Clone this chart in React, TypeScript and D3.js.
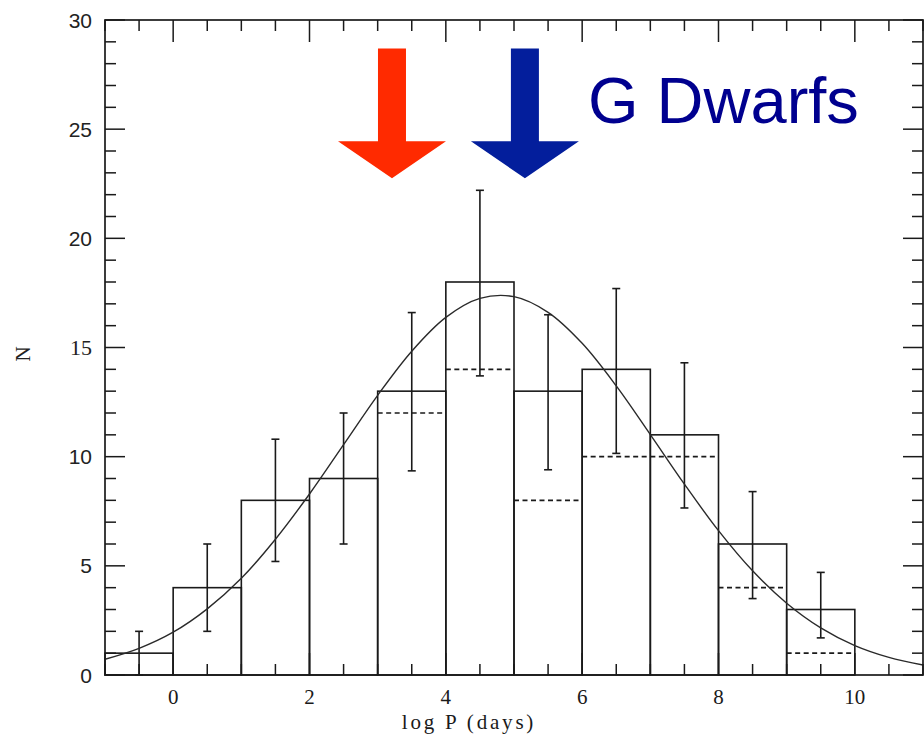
import React from "react";
import * as d3 from "d3";

// ---- data ----
const binStarts = [-1, 0, 1, 2, 3, 4, 5, 6, 7, 8, 9];
const counts = [1, 4, 8, 9, 13, 18, 13, 14, 11, 6, 3];
const subCounts = [1, 4, 8, 9, 12, 14, 8, 10, 10, 4, 1];
const errLow = [0, 2, 5.2, 6, 9.35, 13.7, 9.4, 10.15, 7.65, 3.5, 1.7];
const errHigh = [2, 6, 10.8, 12, 16.6, 22.2, 16.5, 17.7, 14.3, 8.4, 4.7];

const curveX = [-1, -0.5, 0, 0.5, 1, 1.5, 2, 2.5, 3, 3.5, 4, 4.5, 5, 5.5, 6, 6.5, 7, 7.5, 8, 8.5, 9, 9.5, 10, 10.5, 11];
const curveY = [0.72, 1.22, 1.96, 3.03, 4.43, 6.22, 8.29, 10.55, 12.81, 14.83, 16.38, 17.25, 17.33, 16.61, 15.19, 13.24, 11.01, 8.74, 6.61, 4.77, 3.29, 2.16, 1.35, 0.81, 0.46];

const xTickLabels = [0, 2, 4, 6, 8, 10];
const yTickLabels = [0, 5, 10, 15, 20, 25, 30];

const arrowX = [3.21, 5.16];
const arrowColors = ["#ff2a00", "#031e9c"];
const arrowTop = 28.7;
const arrowTip = 22.75;

const title = "G Dwarfs";
const xLabel = "log P (days)";
const yLabel = "N";

// ---- layout ----
const W = 924;
const H = 734;
const left = 105;
const right = 923;
const top = 20;
const bottom = 675;

export default function App() {
  const x = d3.scaleLinear().domain([-1, 11]).range([left, right]);
  const y = d3.scaleLinear().domain([0, 30]).range([bottom, top]);
  const ink = "#1a1a1a";

  const line = d3
    .line<number>()
    .x((_, i) => x(curveX[i]))
    .y((d) => y(d))
    .curve(d3.curveCatmullRom);

  const xMinor = d3.range(-1, 11.01, 0.5);
  const yMinor = d3.range(0, 30.01, 1);

  const isMajorX = (v: number) => Math.abs(v / 2 - Math.round(v / 2)) < 1e-6;
  const isMajorY = (v: number) => v % 5 === 0;

  return (
    <svg
      width={W}
      height={H}
      style={{ position: "absolute", left: 0, top: 0, background: "#fff" }}
    >
      {/* histogram bars */}
      {binStarts.map((b, i) => (
        <rect
          key={"bar" + i}
          x={x(b)}
          y={y(counts[i])}
          width={x(b + 1) - x(b)}
          height={y(0) - y(counts[i])}
          fill="none"
          stroke={ink}
          strokeWidth={1.6}
        />
      ))}
      {/* dashed sub-sample */}
      {binStarts.map((b, i) =>
        subCounts[i] !== counts[i] ? (
          <line
            key={"dash" + i}
            x1={x(b)}
            x2={x(b + 1)}
            y1={y(subCounts[i])}
            y2={y(subCounts[i])}
            stroke={ink}
            strokeWidth={1.7}
            strokeDasharray="5,3.5"
          />
        ) : null
      )}
      {/* error bars */}
      {binStarts.map((b, i) => {
        const cx = x(b + 0.5);
        return (
          <g key={"err" + i} stroke={ink} strokeWidth={1.6}>
            <line x1={cx} x2={cx} y1={y(errLow[i])} y2={y(errHigh[i])} />
            <line x1={cx - 4} x2={cx + 4} y1={y(errHigh[i])} y2={y(errHigh[i])} />
            <line x1={cx - 4} x2={cx + 4} y1={y(errLow[i])} y2={y(errLow[i])} />
          </g>
        );
      })}
      {/* fitted curve */}
      <path d={line(curveY) || ""} fill="none" stroke="#2a2a2a" strokeWidth={1.4} />

      {/* frame */}
      <rect
        x={left}
        y={top}
        width={right - left}
        height={bottom - top}
        fill="none"
        stroke={ink}
        strokeWidth={1.7}
      />
      {/* x ticks */}
      {xMinor.map((v, i) => {
        const len = isMajorX(v) ? 22 : 11;
        return (
          <g key={"xt" + i} stroke={ink} strokeWidth={1.5}>
            <line x1={x(v)} x2={x(v)} y1={bottom} y2={bottom - len} />
            <line x1={x(v)} x2={x(v)} y1={top} y2={top + len} />
          </g>
        );
      })}
      {/* y ticks */}
      {yMinor.map((v, i) => {
        const len = isMajorY(v) ? 20 : 11;
        return (
          <g key={"yt" + i} stroke={ink} strokeWidth={1.5}>
            <line x1={left} x2={left + len} y1={y(v)} y2={y(v)} />
            <line x1={right} x2={right - len} y1={y(v)} y2={y(v)} />
          </g>
        );
      })}
      {/* x tick labels */}
      {xTickLabels.map((v) => (
        <text
          key={"xl" + v}
          x={x(v)}
          y={bottom + 29}
          textAnchor="middle"
          fontFamily="'Liberation Serif', serif"
          fontSize={21}
          fill="#1a1a1a"
        >
          {v}
        </text>
      ))}
      {/* y tick labels */}
      {yTickLabels.map((v) => (
        <text
          key={"yl" + v}
          x={92}
          y={y(v)}
          dy="0.36em"
          textAnchor="end"
          fontFamily={v === 15 ? "'Liberation Serif', serif" : "'Liberation Sans', sans-serif"}
          fontSize={v === 15 ? 22 : 21}
          fill="#222"
        >
          {v}
        </text>
      ))}
      {/* axis titles */}
      <text
        x={469}
        y={729}
        textAnchor="middle"
        fontFamily="'Liberation Serif', serif"
        fontSize={21}
        letterSpacing={2.8}
        fill="#1a1a1a"
      >
        {xLabel}
      </text>
      <text
        transform={`translate(30,354) rotate(-90)`}
        textAnchor="middle"
        fontFamily="'Liberation Serif', serif"
        fontSize={21}
        fill="#222"
      >
        {yLabel}
      </text>

      {/* arrows */}
      {arrowX.map((ax, i) => {
        const cx = x(ax);
        const tipY = y(arrowTip);
        const topY = y(arrowTop);
        const headH = 37;
        const shaftW = 14;
        const headW = 54;
        const pts = [
          [cx - shaftW, topY],
          [cx + shaftW, topY],
          [cx + shaftW, tipY - headH],
          [cx + headW, tipY - headH],
          [cx, tipY],
          [cx - headW, tipY - headH],
          [cx - shaftW, tipY - headH],
        ];
        return (
          <polygon
            key={"arrow" + i}
            points={pts.map((p) => p.join(",")).join(" ")}
            fill={arrowColors[i]}
          />
        );
      })}
      {/* title */}
      <text
        x={588}
        y={123}
        fontFamily="'Liberation Sans', Arial, sans-serif"
        fontSize={65}
        fill="#00008f"
      >
        {title}
      </text>
    </svg>
  );
}
